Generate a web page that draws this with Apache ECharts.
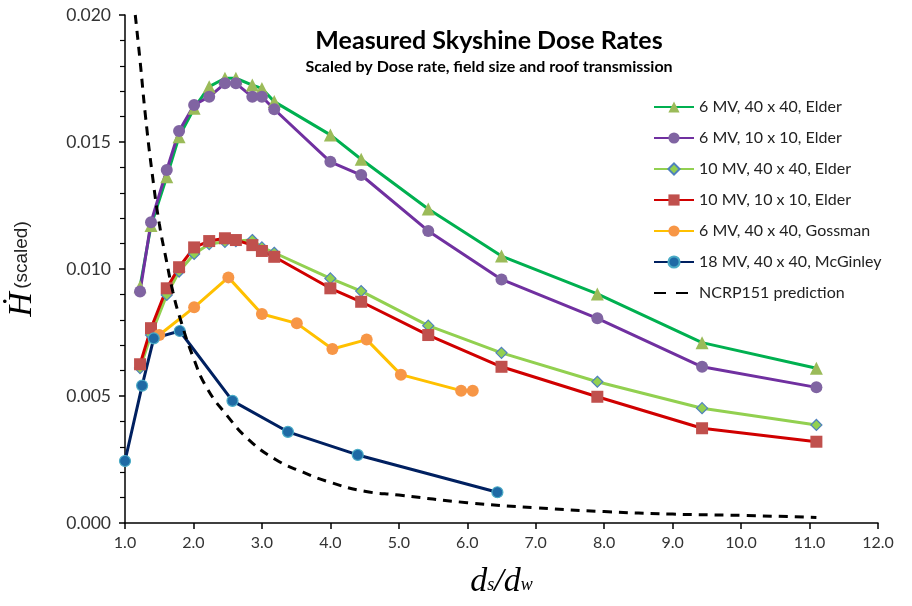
<!DOCTYPE html>
<html>
<head>
<meta charset="utf-8">
<script src="https://cdn.jsdelivr.net/npm/echarts@6/dist/echarts.min.js"></script>
<style>
  html, body { margin: 0; padding: 0; background: #fff; }
  #chart { width: 912px; height: 606px; }
</style>
</head>
<body>
<div id="chart"></div>
<script>
// 数据：近似值
var elderX = [1.22, 1.38, 1.61, 1.79, 2.01, 2.23, 2.46, 2.62, 2.86, 3.0, 3.18, 4.0, 4.45, 5.43, 6.5, 7.9, 9.43, 11.1];
var mv6_40_elder = [0.0093, 0.01171, 0.01363, 0.01521, 0.01633, 0.01718, 0.01751, 0.01751, 0.01724, 0.01711, 0.01659, 0.01528, 0.01432, 0.01236, 0.01051, 0.00902, 0.0071, 0.00609];
var mv6_10_elder = [0.00911, 0.01184, 0.0139, 0.01543, 0.01646, 0.01678, 0.01731, 0.01731, 0.01678, 0.01678, 0.01629, 0.01422, 0.0137, 0.0115, 0.00959, 0.00806, 0.00615, 0.00534];
var mv10_40_elder = [0.0061, 0.0074, 0.00898, 0.0099, 0.01059, 0.01098, 0.01107, 0.0111, 0.01114, 0.01085, 0.01064, 0.00963, 0.00913, 0.00777, 0.0067, 0.00556, 0.00452, 0.00386];
var mv10_10_elder = [0.00625, 0.00767, 0.00924, 0.01007, 0.01085, 0.0111, 0.01121, 0.01114, 0.01094, 0.01071, 0.01048, 0.00924, 0.00871, 0.0074, 0.00615, 0.00497, 0.00373, 0.0032];

var gossmanX = [1.5, 2.01, 2.51, 3.0, 3.51, 4.03, 4.53, 5.03, 5.91, 6.08];
var mv6_40_gossman = [0.0074, 0.00849, 0.00967, 0.00823, 0.00786, 0.00685, 0.00722, 0.00584, 0.00521, 0.00521];

var mcginleyX = [1.0, 1.25, 1.42, 1.8, 2.57, 3.38, 4.4, 6.44];
var mv18_40_mcginley = [0.00244, 0.00541, 0.00727, 0.00756, 0.00481, 0.00359, 0.00268, 0.00121];

var ncrpX = [1.15, 1.22, 1.3, 1.4, 1.5, 1.6, 1.7, 1.8, 2.0, 2.2, 2.5, 2.8, 3.2, 3.6, 4.0, 4.5, 5.0, 6.0, 7.0, 8.0, 9.0, 10.0, 11.1];
var ncrp151 = [0.0200, 0.0182, 0.0160, 0.0137, 0.0118, 0.0104, 0.0091, 0.0081, 0.0065, 0.0053, 0.0042, 0.0033, 0.0025, 0.0020, 0.0016, 0.00125, 0.0011, 0.0008, 0.0006, 0.00045, 0.00035, 0.0003, 0.00022];

var seriesNames = ['6 MV, 40 x 40, Elder', '6 MV, 10 x 10, Elder', '10 MV, 40 x 40, Elder', '10 MV, 10 x 10, Elder', '6 MV, 40 x 40, Gossman', '18 MV, 40 x 40, McGinley', 'NCRP151 prediction'];

function pairs(xs, ys) {
    return xs.map(function (x, i) { return [x, ys[i]]; });
}

var chart = echarts.init(document.getElementById('chart'));

function lineSeries(name, xs, ys, lineColor, symbol, size, fill, border) {
    return {
        name: name,
        type: 'line',
        data: pairs(xs, ys),
        symbol: symbol,
        symbolSize: size,
        lineStyle: { color: lineColor, width: 3 },
        itemStyle: { color: fill, borderColor: border || fill, borderWidth: border ? 1.2 : 0 },
        emphasis: { disabled: true },
        z: 2
    };
}

var legendData = seriesNames.map(function (n, i) {
    // 图例里 NCRP 只显示虚线
    return i === 6 ? { name: n, itemStyle: { opacity: 0 }, lineStyle: { type: [12, 10] } } : { name: n };
});

var option = {
    animation: false,
    title: [
        {
            text: 'Measured Skyshine Dose Rates',
            left: 484, top: 23, textAlign: 'center',
            textStyle: { fontFamily: 'Lato', fontSize: 25, fontWeight: 'bold', color: '#000' }
        },
        {
            text: 'Scaled by Dose rate, field size and roof transmission',
            left: 484, top: 54, textAlign: 'center',
            textStyle: { fontFamily: 'Lato', fontSize: 16, fontWeight: 'bold', color: '#000' }
        }
    ],
    legend: {
        orient: 'vertical',
        left: 648, top: 94,
        itemWidth: 40, itemHeight: 14, itemGap: 15,
        textStyle: { fontFamily: 'Lato', fontSize: 16, color: '#222' },
        data: legendData
    },
    grid: { left: 125, right: 34, top: 15, bottom: 83, outerBoundsMode: 'none', containLabel: false },
    xAxis: {
        type: 'value', min: 1, max: 12, interval: 1,
        name: '{d|d}{s|s}{d|/d}{s|w}',
        nameLocation: 'middle', nameGap: 42,
        nameTextStyle: {
            rich: {
                d: { fontFamily: 'Liberation Serif', fontStyle: 'italic', fontSize: 34, color: '#000', padding: [0, 0, 7, 0] },
                s: { fontFamily: 'Liberation Serif', fontStyle: 'italic', fontSize: 18, color: '#000' }
            }
        },
        axisLine: { lineStyle: { color: '#000', width: 1.5 } },
        axisTick: { length: 6, lineStyle: { color: '#000', width: 1.5 } },
        axisLabel: { fontFamily: 'Lato', fontSize: 16, color: '#333', margin: 12, formatter: function (v) { return v.toFixed(1); } },
        splitLine: { show: false }
    },
    yAxis: {
        type: 'value', min: 0, max: 0.02, interval: 0.005,
        name: '{h|Ḣ} {t|(scaled)}',
        nameLocation: 'middle', nameGap: 86,
        nameTextStyle: {
            rich: {
                h: { fontFamily: 'Liberation Serif', fontStyle: 'italic', fontSize: 34, color: '#000' },
                t: { fontFamily: 'Liberation Sans', fontSize: 19, color: '#222' }
            }
        },
        axisLine: { show: true, lineStyle: { color: '#000', width: 1.5 } },
        axisTick: { show: true, length: 6, lineStyle: { color: '#000', width: 1.5 } },
        minorTick: { show: true, splitNumber: 5, length: 5, lineStyle: { color: '#000', width: 1.2 } },
        axisLabel: { fontFamily: 'Lato', fontSize: 17.5, color: '#333', margin: 14, formatter: function (v) { return v.toFixed(3); } },
        splitLine: { show: false }
    },
    series: [
        lineSeries(seriesNames[0], elderX, mv6_40_elder, '#00B050', 'triangle', 13, '#9BBB59'),
        lineSeries(seriesNames[1], elderX, mv6_10_elder, '#7030A0', 'circle', 12, '#8064A2'),
        lineSeries(seriesNames[2], elderX, mv10_40_elder, '#92D050', 'diamond', 11, '#92D050', '#4F81BD'),
        lineSeries(seriesNames[3], elderX, mv10_10_elder, '#D00000', 'rect', 12, '#C0504D'),
        lineSeries(seriesNames[4], gossmanX, mv6_40_gossman, '#FFC000', 'circle', 12, '#F79646'),
        lineSeries(seriesNames[5], mcginleyX, mv18_40_mcginley, '#002060', 'circle', 11, '#1F6AA5', '#4BACC6'),
        {
            name: seriesNames[6],
            type: 'line',
            data: pairs(ncrpX, ncrp151),
            smooth: true,
            symbol: 'none',
            lineStyle: { color: '#000', width: 3, type: [9, 7] },
            itemStyle: { color: '#000' },
            emphasis: { disabled: true },
            z: 3
        }
    ]
};

chart.setOption(option, true);
window.addEventListener('resize', function () {
    chart.resize();
});
</script>
</body>
</html>
